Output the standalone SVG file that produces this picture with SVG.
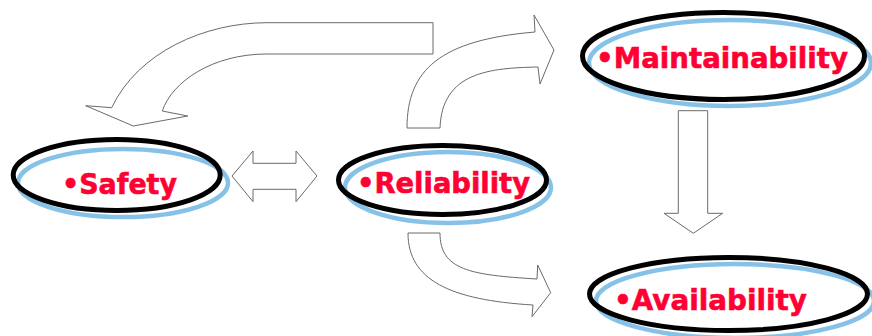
<svg xmlns="http://www.w3.org/2000/svg" width="872" height="336" viewBox="0 0 872 336">
  <style>
    .arrow { fill: #ffffff; stroke: #6a6a6a; stroke-width: 1; stroke-linejoin: miter; }
    .halo { fill: none; stroke: #86c1e8; stroke-width: 4.5; }
    .ring { fill: none; stroke: #000000; stroke-width: 5; }
    .label { font-family: "DejaVu Sans", "Liberation Sans", sans-serif; font-weight: bold; font-size: 28px; fill: #ff0033; stroke: #ff0033; stroke-width: 0.6; }
  </style>

  <!-- connectors: hollow block arrows -->
  <g id="connectors">
    <!-- Reliability back to Safety (curved, top) -->
    <path class="arrow" d="M433,22.7 L267,22.7 C205,22.7 138,52 111.7,107.7 L85.7,105.7 L133.3,126 L187.7,116 L162.3,111 C172,82 212,54 267,54 L433,54 Z"/>
    <!-- Reliability to Maintainability (curved, up-right) -->
    <path class="arrow" d="M407,128 C407,70 440,40 535,32 L534,15 L554,50 L540,84 L538,67 C490,68 442,72 440,128 Z"/>
    <!-- Reliability to Availability (curved, down-right) -->
    <path class="arrow" d="M408,233 L440,233 C440,270 470,275 537,279 L537.7,265 L550.7,292.7 L532,316.7 L533,305 C450,300 408,280 408,233 Z"/>
    <!-- Safety <-> Reliability -->
    <path class="arrow" d="M232,176 L253,151 L253,163.3 L296,163.3 L296,151 L317,176 L296,201.7 L296,189.3 L253,189.3 L253,201.7 Z"/>
    <!-- Maintainability to Availability -->
    <path class="arrow" d="M678.3,110.7 L707.7,110.7 L707.7,213.3 L722.7,213.3 L693.3,233.3 L664,213.3 L678.3,213.3 Z"/>
  </g>

  <g id="safety">
    <ellipse class="halo" cx="123" cy="183" rx="105" ry="34"/>
    <ellipse class="ring" cx="116.7" cy="175" rx="103.5" ry="35.4"/>
    <text class="label" x="62" y="193.5" textLength="115" lengthAdjust="spacingAndGlyphs">•Safety</text>
  </g>

  <g id="reliability">
    <ellipse class="halo" cx="448" cy="187.5" rx="103" ry="35.5"/>
    <ellipse class="ring" cx="442.5" cy="180" rx="104" ry="34.5"/>
    <text class="label" x="357" y="193.3" textLength="173" lengthAdjust="spacingAndGlyphs">•Reliability</text>
  </g>

  <g id="maintainability">
    <ellipse class="halo" cx="730" cy="63" rx="141" ry="43"/>
    <ellipse class="ring" cx="723.5" cy="56" rx="141" ry="43.5"/>
    <text class="label" x="596" y="68.3" textLength="252" lengthAdjust="spacingAndGlyphs">•Maintainability</text>
  </g>

  <g id="availability">
    <ellipse class="halo" cx="735" cy="301" rx="139" ry="37"/>
    <ellipse class="ring" cx="728.5" cy="294" rx="139" ry="36.5"/>
    <text class="label" x="614" y="310" textLength="193" lengthAdjust="spacingAndGlyphs">•Availability</text>
  </g>
</svg>
